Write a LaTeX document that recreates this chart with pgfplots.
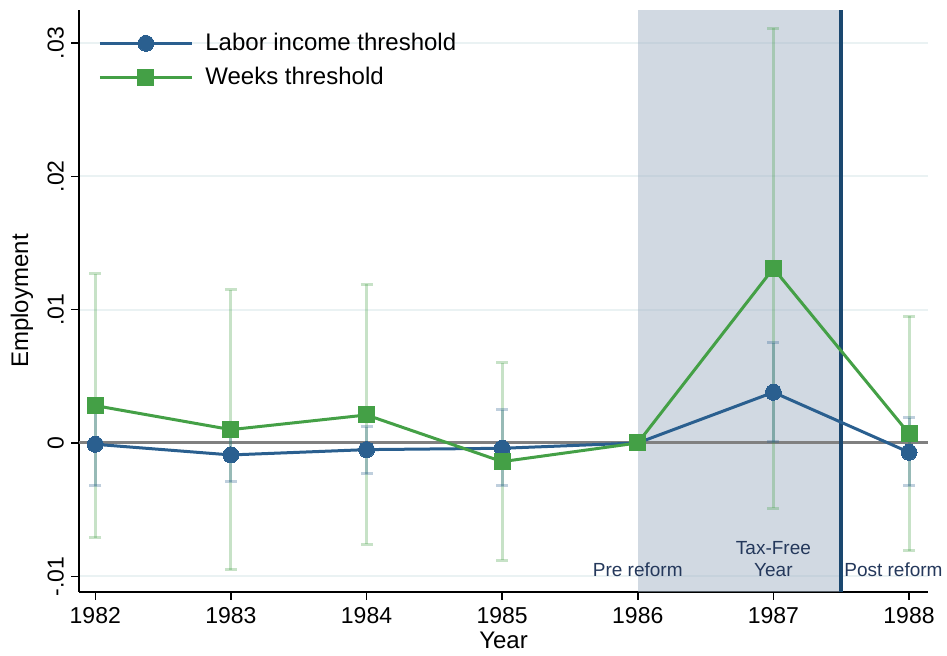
\documentclass[border=0pt]{standalone}
\usepackage{pgfplots}
\pgfplotsset{compat=1.18}
\usepackage{pgfplotstable}
\usepackage{fontspec}
\setmainfont{Liberation Sans}

\definecolor{labor}{HTML}{2A5F8F}
\definecolor{weeks}{HTML}{44A046}
\definecolor{navyline}{HTML}{1A476F}
\definecolor{shadebox}{HTML}{A3B4C6}
\definecolor{gridc}{HTML}{EAF2F3}
\definecolor{zeroc}{HTML}{808080}
\definecolor{notec}{HTML}{24385B}

% Point estimates with 95% confidence bounds
\pgfplotstableread{
year  y        lo       hi
1982 -0.0001  -0.0032   0.0030
1983 -0.0009  -0.0029   0.0011
1984 -0.0005  -0.0023   0.0012
1985 -0.0004  -0.0032   0.0025
1986  0.0000   0.0000   0.0000
1987  0.0038   0.0001   0.0075
1988 -0.0007  -0.0032   0.0019
}\labortab

\pgfplotstableread{
year  y        lo       hi
1982  0.0028  -0.0071   0.0127
1983  0.0010  -0.0095   0.0115
1984  0.0021  -0.0076   0.0119
1985 -0.0014  -0.0088   0.0060
1986  0.0000   0.0000   0.0000
1987  0.0131  -0.0049   0.0311
1988  0.0007  -0.0081   0.0095
}\weekstab

\begin{document}
\begin{tikzpicture}
\begin{axis}[
  scale only axis,
  width=424.5pt, height=291pt,
  xmin=1981.88, xmax=1988.14,
  ymin=-0.01118, ymax=0.03248,
  axis x line*=bottom, axis y line*=left,
  axis line style={black, line width=0.75pt},
  tick style={black, line width=0.75pt},
  tick align=outside, major tick length=4pt,
  xtick={1982,1983,1984,1985,1986,1987,1988},
  xticklabels={1982,1983,1984,1985,1986,1987,1988},
  ytick={-0.01,0,0.01,0.02,0.03},
  yticklabels={-.01,0,.01,.02,.03},
  scaled y ticks=false,
  ymajorgrids,
  grid style={gridc, line width=1pt},
  ticklabel style={font=\fontsize{11.5}{13}\selectfont},
  yticklabel style={rotate=90, anchor=south},
  xlabel={Year}, ylabel={Employment},
  label style={font=\fontsize{12}{14}\selectfont},
  xlabel style={at={(axis description cs:0.5,-0.0825)}, anchor=center},
  ylabel style={at={(axis description cs:-0.0671,0.5)}, anchor=center},
  legend style={draw=none, fill=none, at={(0.02238,1)}, anchor=north west,
    yshift=-11pt, inner sep=0pt, column sep=6pt, row sep=6pt,
    nodes={inner sep=0pt, text height=9pt, text depth=2pt},
    font=\fontsize{12}{14}\selectfont},
  legend cell align=left,
  legend image code/.code={%
    \draw[mark repeat=2, mark phase=2, #1]
      plot coordinates {(0pt,0pt) (23pt,0pt) (46pt,0pt)};},
  clip=false,
]
% tax-free year window
\fill[shadebox, opacity=0.5] (axis cs:1986,-0.01118) rectangle (axis cs:1987.5,0.03248);
% reference line at zero
\draw[zeroc, line width=1.5pt] (axis cs:1981.88,0) -- (axis cs:1988.14,0);
% end of the tax-free year
\draw[navyline, line width=2pt] (axis cs:1987.5,-0.01118) -- (axis cs:1987.5,0.03248);

% confidence intervals
\addplot[draw=none, forget plot,
  error bars/.cd, y dir=both, y explicit,
  error bar style={weeks, opacity=0.3, line width=1.5pt},
  error mark options={weeks, opacity=0.3, line width=1.5pt, mark size=3pt, rotate=90}]
  table[x=year, y=y, y error plus expr=\thisrow{hi}-\thisrow{y},
        y error minus expr=\thisrow{y}-\thisrow{lo}] {\weekstab};
\addplot[draw=none, forget plot,
  error bars/.cd, y dir=both, y explicit,
  error bar style={labor, opacity=0.3, line width=1.5pt},
  error mark options={labor, opacity=0.3, line width=1.5pt, mark size=3pt, rotate=90}]
  table[x=year, y=y, y error plus expr=\thisrow{hi}-\thisrow{y},
        y error minus expr=\thisrow{y}-\thisrow{lo}] {\labortab};

% point estimates
\addplot[labor, line width=1.5pt, mark=*, mark size=4pt,
  mark options={solid, fill=labor, draw=labor, line width=0pt}]
  table[x=year, y=y] {\labortab};
\addlegendentry{Labor income threshold}
\addplot[weeks, line width=1.5pt, mark=square*, mark size=4pt,
  mark options={solid, fill=weeks, draw=weeks, line width=0pt}]
  table[x=year, y=y] {\weekstab};
\addlegendentry{Weeks threshold}

% period labels
\begin{scope}[font=\fontsize{9.5}{11}\selectfont, text=notec]
\node[anchor=base] at (axis cs:1986,-0.0100) {Pre reform};
\node[anchor=base] at (axis cs:1987,-0.0084) {Tax-Free};
\node[anchor=base] at (axis cs:1987,-0.0100) {Year};
\node[anchor=base west, inner sep=0pt] at (axis cs:1987.52,-0.0100) {Post reform};
\end{scope}
\end{axis}
\pgfresetboundingbox
\path[use as bounding box] (-39.5pt,-32pt) rectangle (434pt,296pt);
\end{tikzpicture}
\end{document}
